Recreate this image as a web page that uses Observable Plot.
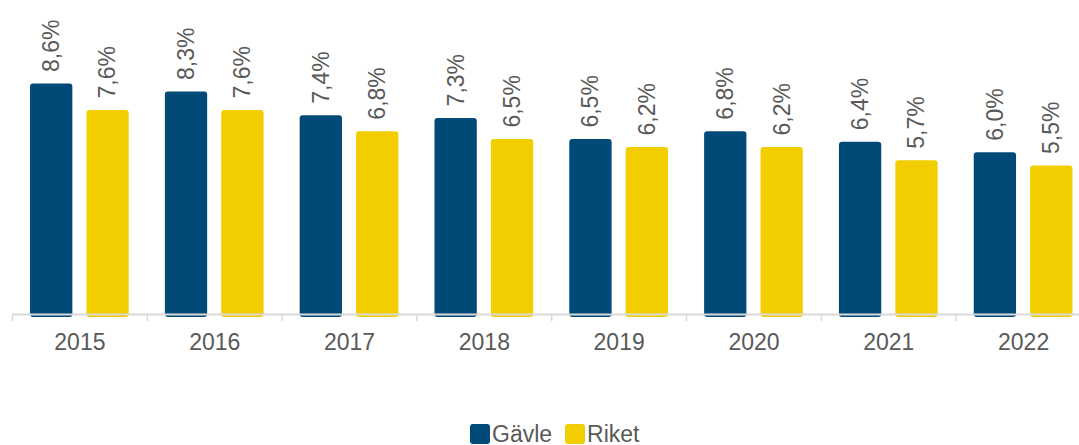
<!DOCTYPE html>
<html>
<head>
<meta charset="utf-8">
<script src="https://cdn.jsdelivr.net/npm/d3@7"></script>
<script src="https://cdn.jsdelivr.net/npm/@observablehq/plot@0.6"></script>
<style>
  html, body { margin: 0; padding: 0; background: #fff; }
  #wrap { position: relative; width: 1079px; height: 445px; font-family: "Liberation Sans", Arial, sans-serif; color: #595959; }
  #legend { position: absolute; top: 421px; left: 470px; display: flex; align-items: center; font-size: 23px; height: 26px; }
  .sw { width: 20px; height: 20px; border-radius: 3px; display: inline-block; }
  .item { display: flex; align-items: center; }
</style>
</head>
<body>
<div id="wrap"><div id="chart"></div><div id="legend"></div></div>
<script>
const years = ["2015", "2016", "2017", "2018", "2019", "2020", "2021", "2022"];
const series = ["Gävle", "Riket"];
const gavle = [8.6, 8.3, 7.4, 7.3, 6.5, 6.8, 6.4, 6.0];
const riket = [7.6, 7.6, 6.8, 6.5, 6.2, 6.2, 5.7, 5.5];
const colors = ["#014a78", "#f2cd00"];

const data = years.flatMap((y, i) => [
  {year: y, series: series[0], value: gavle[i]},
  {year: y, series: series[1], value: riket[i]}
]);

const fmt = v => d3.format(".1f")(v).replace(".", ",") + "%";

const W = 1079, H = 410, ml = 12, mr = -11.5;
const step = (W - ml - mr) / years.length;

const chart = Plot.plot({
  width: W,
  height: H,
  marginLeft: ml,
  marginRight: mr,
  marginTop: 0,
  marginBottom: 96,
  style: {fontFamily: "Liberation Sans, Arial, sans-serif", color: "#595959", background: "white"},
  fx: {domain: years, padding: 0, round: false, label: null},
  x: {domain: series, paddingInner: 0.25, paddingOuter: 0.32, round: false, axis: null},
  y: {domain: [0, 10], range: [311, 311 - 264.5], axis: null},
  color: {domain: series, range: colors},
  marks: [
    Plot.barY(data, {fx: "year", x: "series", y: "value", fill: "series", rx: 3, insetBottom: -6}),
    Plot.ruleY([0], {stroke: "#d9d9d9", strokeWidth: 2, dy: 3}),
    Plot.text(data, {fx: "year", x: "series", y: "value", text: d => fmt(d.value), rotate: -90, textAnchor: "start", dy: -12, fontSize: 23, fill: "#595959"}),
    Plot.axisFx({anchor: "bottom", tickSize: 7, stroke: "#d9d9d9", strokeWidth: 1.5, fill: "none", label: null, dx: -step / 2}),
    Plot.axisFx({anchor: "bottom", tickSize: 0, tickPadding: 19, fontSize: 23, fill: "#595959", label: null})
  ]
});
document.getElementById("chart").appendChild(chart);

const legend = document.getElementById("legend");
series.forEach((s, i) => {
  const item = document.createElement("div");
  item.className = "item";
  item.style.marginRight = i === 0 ? "13px" : "0";
  const sw = document.createElement("span");
  sw.className = "sw";
  sw.style.background = colors[i];
  sw.style.marginRight = "2px";
  const t = document.createElement("span");
  t.textContent = s;
  item.appendChild(sw);
  item.appendChild(t);
  legend.appendChild(item);
});
</script>
</body>
</html>
